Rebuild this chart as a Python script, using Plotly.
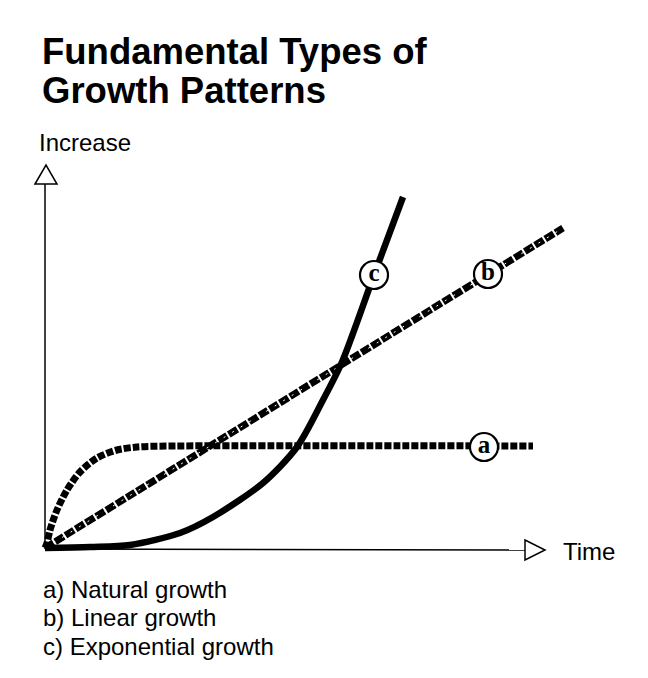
import plotly.graph_objects as go

# --- data (time on x, increase on y, origin of the sketch at 0,0) ---
natural_t = [0, 2, 5, 12, 22, 35, 52, 72, 92, 130, 488]
natural_v = [0, 5, 18, 38, 58, 76, 90, 98, 101, 102, 102]

linear_t = [0, 518]
linear_v = [0, 320]

expo_t = [0, 45, 85, 135, 168, 218, 252, 278, 297, 329, 358]
expo_v = [0, 1, 3, 15, 31, 65, 101, 148, 186, 273, 351]

tag_names = ['a', 'b', 'c']
tag_t = [439, 443, 329]
tag_v = [101, 274, 273]

legend_lines = ['a) Natural growth', 'b) Linear growth', 'c) Exponential growth']

W, H = 648, 678
PAD = 8  # page body margin
FONT = 'Liberation Sans'


def px(x):
    return (x - PAD) / W


def py(y):
    return 1 - (y - PAD) / H


fig = go.Figure()

# a) natural growth - square dotted
fig.add_trace(go.Scatter(x=natural_t, y=natural_v, mode='lines',
                         line=dict(color='black', width=7, dash='7px,2px', shape='spline', smoothing=0.8),
                         hoverinfo='skip'))

# b) linear growth - hatched dashes
fig.add_trace(go.Scatter(x=linear_t, y=linear_v, mode='lines',
                         line=dict(color='black', width=7, dash='10px,2px'),
                         hoverinfo='skip'))
fig.add_trace(go.Scatter(x=linear_t, y=linear_v, mode='lines',
                         line=dict(color='white', width=1, dash='2px,8px'),
                         hoverinfo='skip'))

# c) exponential growth - solid
fig.add_trace(go.Scatter(x=expo_t, y=expo_v, mode='lines',
                         line=dict(color='black', width=6.5, shape='spline', smoothing=0.8),
                         hoverinfo='skip'))

# circled letters on the curves
fig.add_trace(go.Scatter(x=tag_t, y=tag_v, mode='markers+text', text=['<b>%s</b>' % t for t in tag_names],
                         textposition='middle center',
                         textfont=dict(family='Liberation Serif', size=25, color='black'),
                         marker=dict(size=28, color='white', line=dict(color='black', width=2.2)),
                         hoverinfo='skip'))

# axes with open arrow heads
ax = dict(color='black', width=1.5)
fig.add_shape(type='line', x0=0, y0=-1, x1=0, y1=366, line=ax)
fig.add_shape(type='path', path='M -10,364 L 1,383 L 12,364 Z', line=ax, fillcolor='white')
fig.add_shape(type='line', x0=0, y0=-1, x1=482, y1=-2, line=ax)
fig.add_shape(type='path', path='M 480,8 L 500,-2 L 480,-12 Z', line=ax, fillcolor='white')

# texts
fig.add_annotation(x=px(40), y=py(51), xref='paper', yref='paper', xanchor='left', yanchor='middle',
                   text='<b>Fundamental Types of</b>', showarrow=False,
                   font=dict(family=FONT, size=36.5, color='black'))
fig.add_annotation(x=px(40), y=py(90), xref='paper', yref='paper', xanchor='left', yanchor='middle',
                   text='<b>Growth Patterns</b>', showarrow=False,
                   font=dict(family=FONT, size=36.5, color='black'))
fig.add_annotation(x=px(37), y=py(143), xref='paper', yref='paper', xanchor='left', yanchor='middle',
                   text='Increase', showarrow=False,
                   font=dict(family=FONT, size=24, color='black'))
fig.add_annotation(x=px(561), y=py(551), xref='paper', yref='paper', xanchor='left', yanchor='middle',
                   text='Time', showarrow=False,
                   font=dict(family=FONT, size=24, color='black'))
for i, line in enumerate(legend_lines):
    fig.add_annotation(x=px(41), y=py(589 + i * 28.7), xref='paper', yref='paper',
                       xanchor='left', yanchor='middle', text=line, showarrow=False,
                       font=dict(family=FONT, size=24, color='black'))

fig.update_layout(
    width=W, height=H,
    margin=dict(l=0, r=0, t=0, b=0),
    showlegend=False,
    paper_bgcolor='white', plot_bgcolor='white',
    xaxis=dict(range=[-45 + PAD, W - 45 + PAD], visible=False, fixedrange=True),
    yaxis=dict(range=[548 - PAD - H, 548 - PAD], visible=False, fixedrange=True),
)

fig.write_html("out.html")
